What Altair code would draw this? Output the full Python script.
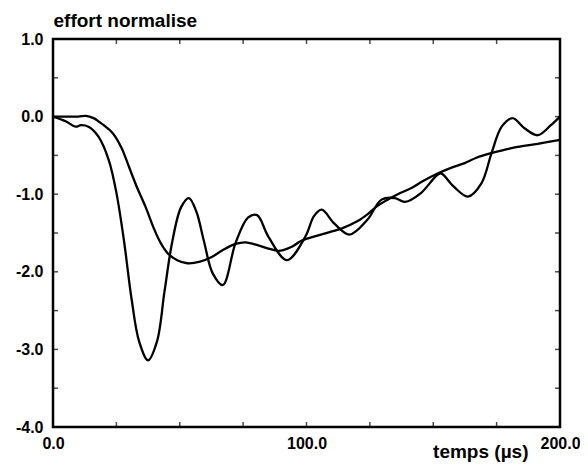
import altair as alt
import pandas as pd

# oscillating response
osc_x = [0, 5, 9, 11, 14, 18, 22, 25, 28, 31, 34, 37.5, 41, 44, 47, 50.5, 53.6, 56.5, 59.5, 63,
         67, 72, 77, 80.5, 85, 92.3, 99.5, 103, 106, 111, 117, 124, 129.6, 134.9, 138.8, 145,
         151, 153, 158, 163.7, 169, 173, 177, 181.3, 186, 191.2, 196.4, 200]
osc_y = [0, -0.06, -0.13, -0.11, -0.13, -0.26, -0.56, -0.98, -1.6, -2.35, -2.9, -3.14, -2.9,
         -2.25, -1.62, -1.17, -1.05, -1.22, -1.6, -2.02, -2.17, -1.63, -1.3, -1.27, -1.55, -1.85,
         -1.55, -1.28, -1.2, -1.38, -1.52, -1.33, -1.07, -1.05, -1.10, -0.99, -0.77, -0.73,
         -0.90, -1.03, -0.86, -0.47, -0.13, -0.02, -0.15, -0.24, -0.11, 0.0]

# smooth response
smooth_x = [0, 5, 10, 13, 16, 18.3, 20, 23.5, 27, 30, 33, 36.6, 39.9, 42.5, 45.5, 49, 53, 58, 62,
            67, 72, 76, 80, 85, 89, 94, 98, 104.7, 110, 114, 120, 124.4, 128, 132, 136, 141.4,
            146, 151.9, 157, 162.4, 167, 172.8, 178, 183.3, 191.2, 200]
smooth_y = [0, 0, 0, 0.01, -0.02, -0.07, -0.11, -0.21, -0.4, -0.65, -0.9, -1.17, -1.45, -1.63,
            -1.77, -1.85, -1.89, -1.87, -1.82, -1.72, -1.64, -1.62, -1.65, -1.70, -1.73, -1.68,
            -1.6, -1.53, -1.48, -1.44, -1.35, -1.25, -1.15, -1.07, -1.0, -0.92, -0.83, -0.73,
            -0.66, -0.60, -0.53, -0.47, -0.43, -0.39, -0.35, -0.30]

x_labels = [0, 100, 200]
y_labels = [-4, -3, -2, -1, 0, 1]
x_minor = [0, 25, 50, 75, 100, 125, 150, 175, 200]
y_minor = [-4, -3.5, -3, -2.5, -2, -1.5, -1, -0.5, 0, 0.5, 1]

df = pd.concat([
    pd.DataFrame({"t": osc_x, "v": osc_y, "s": "osc"}),
    pd.DataFrame({"t": smooth_x, "v": smooth_y, "s": "smooth"}),
])

FONT = "Liberation Sans"
lab_expr = "(datum.value < 0 ? '-' : '') + format(abs(datum.value), '.1f')"

xs = alt.Scale(domain=[0, 200], nice=False, zero=False)
ys = alt.Scale(domain=[-4, 1], nice=False, zero=False)

lines = alt.Chart(df).mark_line(color="black", strokeWidth=2.3, interpolate="catmull-rom").encode(
    x=alt.X("t:Q", scale=xs, axis=alt.Axis(
        values=x_labels, labelExpr=lab_expr, domain=False, ticks=False, grid=False,
        labelFont=FONT, labelFontSize=16, labelFontWeight="bold", labelColor="black",
        labelPadding=8, labelFlush=False,
        title="temps (µs)", titleFont=FONT, titleFontSize=19, titleFontWeight="bold",
        titleColor="black", titleAlign="right", titleBaseline="alphabetic",
        titleX=475, titleY=30)),
    y=alt.Y("v:Q", scale=ys, axis=alt.Axis(
        values=y_labels, labelExpr=lab_expr, domain=False, ticks=False, grid=False,
        labelFont=FONT, labelFontSize=16, labelFontWeight="bold", labelColor="black",
        labelPadding=10, labelFlush=False,
        title="effort normalise", titleFont=FONT, titleFontSize=19, titleFontWeight="bold",
        titleColor="black", titleAngle=0, titleAlign="left", titleBaseline="alphabetic",
        titleX=0, titleY=-13)),
    detail="s:N",
)

xt = pd.DataFrame({"t": x_minor})
yt = pd.DataFrame({"v": y_minor})

tick_style = dict(color="black", size=10, thickness=1.5, clip=True)
bottom_ticks = alt.Chart(xt).mark_tick(orient="vertical", **tick_style).encode(
    x=alt.X("t:Q", scale=xs), y=alt.datum(-4, scale=ys))
top_ticks = alt.Chart(xt).mark_tick(orient="vertical", **tick_style).encode(
    x=alt.X("t:Q", scale=xs), y=alt.datum(1, scale=ys))
left_ticks = alt.Chart(yt).mark_tick(orient="horizontal", **tick_style).encode(
    y=alt.Y("v:Q", scale=ys), x=alt.datum(0, scale=xs))
right_ticks = alt.Chart(yt).mark_tick(orient="horizontal", **tick_style).encode(
    y=alt.Y("v:Q", scale=ys), x=alt.datum(200, scale=xs))

chart = alt.layer(lines, bottom_ticks, top_ticks, left_ticks, right_ticks).properties(
    width=507, height=388,
    autosize=alt.AutoSizeParams(type="none"),
    padding={"left": 45, "top": 31, "right": 20, "bottom": 37},
    background="white",
).configure_view(stroke="black", strokeWidth=2.5)

chart.save("out.html", embed_options={"renderer": "svg", "actions": False})
